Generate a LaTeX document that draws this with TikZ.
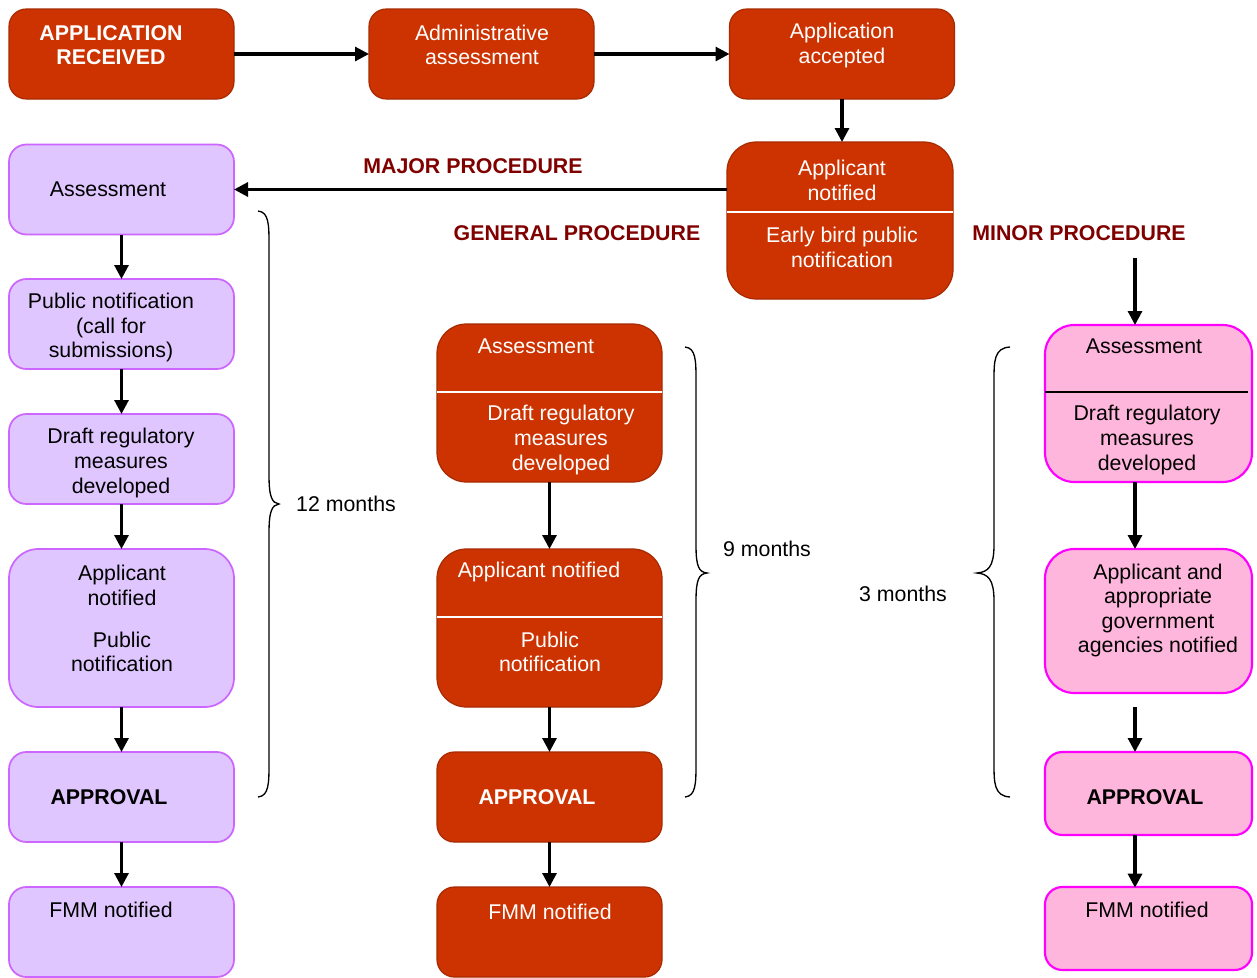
\documentclass[tikz,border=0pt]{standalone}
\usepackage{fontspec}
\setmainfont{Liberation Sans}
\usetikzlibrary{arrows.meta}
\definecolor{rfill}{HTML}{CC3300}
\definecolor{rline}{HTML}{A82A00}
\definecolor{pfill}{HTML}{E0C6FF}
\definecolor{pline}{HTML}{CC66FF}
\definecolor{kfill}{HTML}{FFB6DC}
\definecolor{kline}{HTML}{FF00FF}
\definecolor{lbl}{HTML}{800000}
\begin{document}
\begin{tikzpicture}[x=0.75pt,y=-0.75pt,
  box/.style={rectangle,inner sep=0pt,outer sep=0pt,minimum width=168.75pt},
  redbox/.style={box,fill=rfill,draw=rline,line width=0.9pt},
  purbox/.style={box,fill=pfill,draw=pline,line width=1.3pt},
  pinkbox/.style={box,fill=kfill,draw=kline,line width=1.6pt,minimum width=155.25pt},
  hA/.style={minimum height=67.5pt,rounded corners=13pt},
  hB/.style={minimum height=118.5pt,rounded corners=22pt},
  txt/.style={inner sep=0pt,align=center,font=\fontsize{16}{18.4}\selectfont},
  wtxt/.style={txt,text=white},
  btxt/.style={txt,font=\fontsize{16}{18.4}\selectfont\bfseries},
  ptxt/.style={txt,font=\fontsize{16}{18.4}\selectfont\bfseries,text=lbl},
  arr/.style={line width=2.3pt,-{Triangle[length=10.5pt,width=10.5pt]}},
  brace/.style={line width=1pt}]
\useasboundingbox (0,0) rectangle (1257,978);

% top row
\node[redbox,hA] (recv) at (121.5,54) {};
\node[redbox,hA] (admin) at (481.5,54) {};
\node[redbox,hA] (acc) at (842,54) {};
\node[redbox,minimum width=169.5pt,minimum height=117.75pt,rounded corners=22pt] (notif) at (840,220.5) {};
\draw[white,line width=1.2pt] (notif.west |- 0,212) -- (notif.east |- 0,212);

\node[wtxt,font=\fontsize{16}{18.4}\selectfont\bfseries] (t1) at (111,45) {APPLICATION\\RECEIVED};
\node[wtxt] (t2) at (482,45) {Administrative\\assessment};
\node[wtxt] (t3) at (842,45.5) {Application\\accepted};
\node[wtxt] (t4) at (842,180.5) {Applicant\\notified};
\node[wtxt] (t5) at (842,247.5) {Early bird public\\notification};

\draw[arr] (recv.east) -- (admin.west);
\draw[arr] (admin.east) -- (acc.west);
\draw[arr] (acc.south) -- (acc.south |- notif.north);

% left column (major)
\node[purbox,hA] (L1) at (121.5,189.5) {};
\node[purbox,hA] (L2) at (121.5,324) {};
\node[purbox,hA] (L3) at (121.5,459) {};
\node[purbox,hB] (L4) at (121.5,628) {};
\node[purbox,hA] (L5) at (121.5,797) {};
\node[purbox,hA] (L6) at (121.5,932) {};

\node[txt] (t6) at (108,189) {Assessment};
\node[txt] (t7) at (111,327.5) {Public notification\\(call for\\submissions)};
\node[txt] (t8) at (121,463) {Draft regulatory\\measures\\developed};
\node[txt] (t9) at (122,585.5) {Applicant\\notified};
\node[txt] (t10) at (122,652) {Public\\notification};
\node[btxt] (t11) at (109,797) {APPROVAL};
\node[txt] (t12) at (111,910) {FMM notified};

\draw[arr] (L1.east -| notif.west) -- (L1.east);
\node[ptxt] (major) at (473,166) {MAJOR PROCEDURE};
\node[ptxt] (general) at (577,233) {GENERAL PROCEDURE};
\node[ptxt] (minor) at (1079,233) {MINOR PROCEDURE};

\draw[arr] (L1.south) -- (L2.north);
\draw[arr] (L2.south) -- (L3.north);
\draw[arr] (L3.south) -- (L4.north);
\draw[arr] (L4.south) -- (L5.north);
\draw[arr] (L5.south) -- (L6.north);

\draw[brace] (258,211) .. controls (269,212) and (269,225) .. (269,245) -- (269,475)
  .. controls (269,497) and (272,503) .. (279,504) .. controls (272,505) and (269,511) .. (269,533)
  -- (269,763) .. controls (269,783) and (269,796) .. (258,797);
\node[txt] (m12) at (346,504) {12 months};

% middle column (general)
\node[redbox,hB,minimum height=118.5pt] (M1) at (549.5,403) {};
\draw[white,line width=1.2pt] (M1.west |- 0,392) -- (M1.east |- 0,392);
\node[redbox,hB] (M2) at (549.5,628) {};
\draw[white,line width=1.2pt] (M2.west |- 0,617) -- (M2.east |- 0,617);
\node[redbox,hA] (M3) at (549.5,797) {};
\node[redbox,hA] (M4) at (549.5,932) {};

\node[wtxt] (t13) at (536,346) {Assessment};
\node[wtxt] (t14) at (561,440) {Draft regulatory\\measures\\developed};
\node[wtxt] (t15) at (539,572) {Applicant notified};
\node[wtxt] (t16) at (550,652) {Public\\notification};
\node[wtxt,font=\fontsize{16}{18.4}\selectfont\bfseries] (t17) at (537,797) {APPROVAL};
\node[wtxt] (t18) at (550,912) {FMM notified};

\draw[arr] (M1.south) -- (M2.north);
\draw[arr] (M2.south) -- (M3.north);
\draw[arr] (M3.south) -- (M4.north);

\draw[brace] (685,347) .. controls (696,348) and (696,361) .. (696,381) -- (696,545)
  .. controls (696,567) and (699,572) .. (707,573) .. controls (699,574) and (696,579) .. (696,601)
  -- (696,763) .. controls (696,783) and (696,796) .. (685,797);
\node[txt] (m9) at (767,549) {9 months};

% right column (minor)
\node[pinkbox,minimum height=117.75pt,rounded corners=22pt] (R1) at (1148.5,403.5) {};
\draw[black,line width=1.2pt] (R1.west |- 0,392) -- (1248,392);
\node[pinkbox,minimum height=108pt,rounded corners=22pt] (R2) at (1148.5,621) {};
\node[pinkbox,minimum height=62.25pt,rounded corners=13pt] (R3) at (1148.5,793.5) {};
\node[pinkbox,minimum height=62.25pt,rounded corners=13pt] (R4) at (1148.5,928.5) {};

\node[txt] (t19) at (1144,346) {Assessment};
\node[txt] (t20) at (1147,440) {Draft regulatory\\measures\\developed};
\node[txt] (t21) at (1158,610.5) {Applicant and\\appropriate\\government\\agencies notified};
\node[btxt] (t22) at (1145,797) {APPROVAL};
\node[txt] (t23) at (1147,910) {FMM notified};

\coordinate (mstart) at (1135,258);
\coordinate (r2end) at (1135,707);
\draw[arr] (mstart) -- (mstart |- R1.north);
\draw[arr] (R1.south -| mstart) -- (R2.north -| mstart);
\draw[arr] (r2end) -- (R3.north -| r2end);
\draw[arr] (R3.south -| mstart) -- ([yshift=-0.5pt]R4.north -| mstart);

\draw[brace] (1010,347) .. controls (994,348) and (994,361) .. (994,381) -- (994,545)
  .. controls (994,567) and (988,572) .. (977,573) .. controls (988,574) and (994,579) .. (994,601)
  -- (994,763) .. controls (994,783) and (994,796) .. (1010,797);
\node[txt] (m3) at (903,594) {3 months};
\end{tikzpicture}
\end{document}
